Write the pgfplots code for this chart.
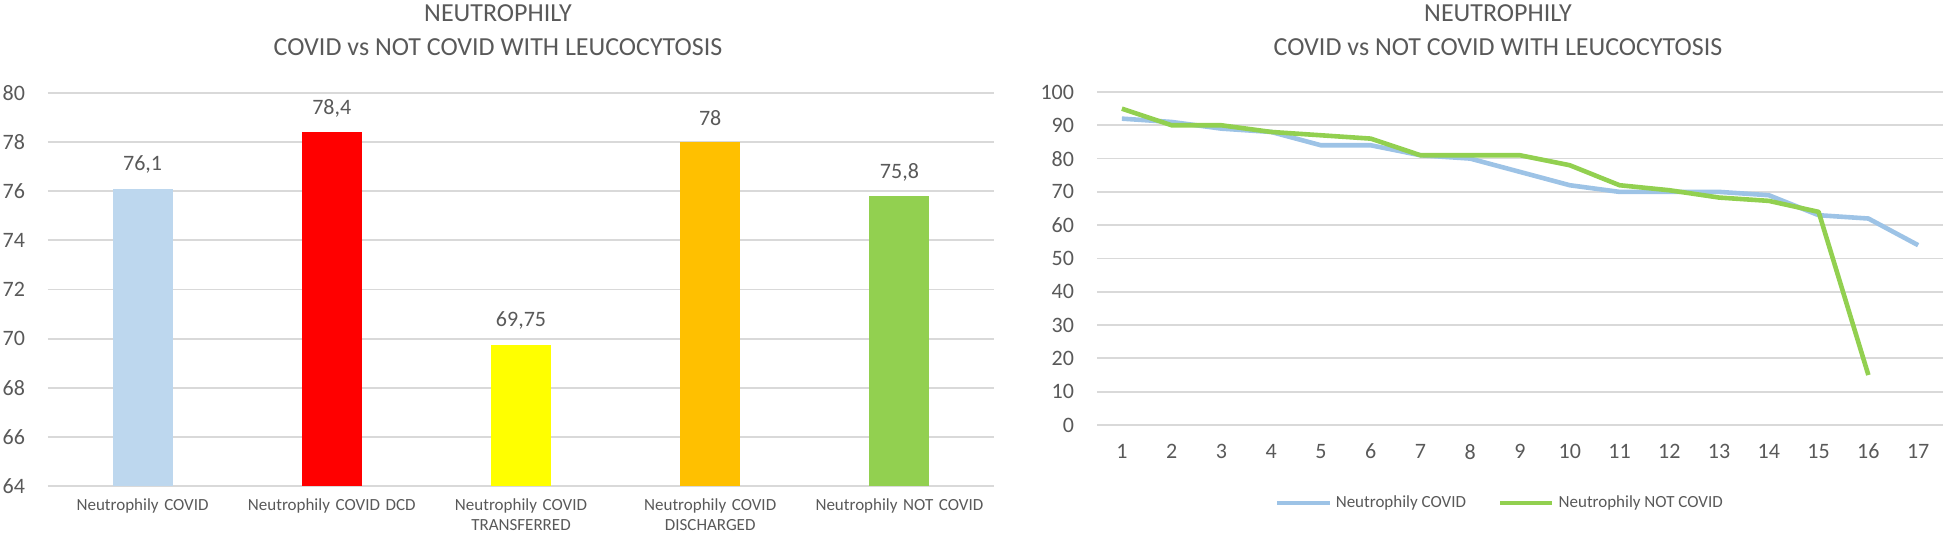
\documentclass[border=0pt]{standalone}
\usepackage{pgfplots}
\usepackage{pgfplotstable}
\pgfplotsset{compat=1.18}
\usepackage{fontspec}
\setmainfont{Carlito}
\definecolor{txtgray}{HTML}{595959}
\definecolor{gridgray}{HTML}{D9D9D9}
\definecolor{cblue}{HTML}{BDD7EE}
\definecolor{cred}{HTML}{FF0000}
\definecolor{cyellow}{HTML}{FFFF00}
\definecolor{corange}{HTML}{FFC000}
\definecolor{cgreen}{HTML}{92D050}
\definecolor{lblue}{HTML}{9DC3E6}

\pgfplotstableread{
x covid notcovid
1 92 95
2 91 90
3 89 90
4 88 88
5 84 87
6 84 86
7 81 81
8 80 81
9 76 81
10 72 78
11 70 72
12 70 70.5
13 70 68.3
14 69 67.3
15 63 64
16 62 15
17 54 nan
}\linedata

\begin{document}
\begin{tikzpicture}[x=0.5pt,y=0.5pt]
\path[use as bounding box] (0,0) rectangle (1946,534);
% titles
\node[txtgray, font=\fontsize{13}{15}\selectfont] at (498,521) {NEUTROPHILY};
\node[txtgray, font=\fontsize{13}{15}\selectfont] at (498,487) {COVID vs NOT COVID WITH LEUCOCYTOSIS};
\node[txtgray, font=\fontsize{13}{15}\selectfont] at (1498,521) {NEUTROPHILY};
\node[txtgray, font=\fontsize{13}{15}\selectfont] at (1498,487) {COVID vs NOT COVID WITH LEUCOCYTOSIS};

\begin{axis}[
  at={(24pt,24pt)}, anchor=south west, scale only axis,
  width=473pt, height=196.5pt,
  xmin=-0.5, xmax=4.5, ymin=64, ymax=80,
  ytick={64,66,...,80},
  xtick={0,1,2,3,4},
  xticklabels={Neutrophily COVID, Neutrophily COVID DCD, Neutrophily COVID\\TRANSFERRED, Neutrophily COVID\\DISCHARGED, Neutrophily NOT COVID},
  axis line style={draw=none},
  major tick length=0pt,
  ymajorgrids, grid style={gridgray, line width=0.9pt},
  tick label style={txtgray},
  yticklabel style={font=\fontsize{11}{13}\selectfont, xshift=-8pt},
  xticklabel style={font=\fontsize{8.5}{10}\selectfont, align=center, text width=100pt, yshift=-3pt},
  ybar, bar width=30pt,
  nodes near coords,
  every node near coord/.append style={txtgray, font=\fontsize{11}{13}\selectfont, anchor=center, yshift=12pt},
  /pgf/number format/use comma,
  /pgf/number format/assume math mode=true,
  /pgf/number format/1000 sep={},
]
\addplot[fill=cblue, draw=none, bar shift=0pt] coordinates {(0,76.1)};
\addplot[fill=cred, draw=none, bar shift=0pt] coordinates {(1,78.4)};
\addplot[fill=cyellow, draw=none, bar shift=0pt] coordinates {(2,69.75)};
\addplot[fill=corange, draw=none, bar shift=0pt] coordinates {(3,78)};
\addplot[fill=cgreen, draw=none, bar shift=0pt] coordinates {(4,75.8)};
\end{axis}

\begin{axis}[
  at={(548.5pt,54.5pt)}, anchor=south west, scale only axis,
  width=423pt, height=166.5pt,
  xmin=0.5, xmax=17.5, ymin=0, ymax=100,
  ytick={0,10,...,100},
  xtick={1,...,17},
  axis line style={draw=none},
  major tick length=0pt,
  ymajorgrids, grid style={gridgray, line width=0.9pt},
  tick label style={txtgray, font=\fontsize{11}{13}\selectfont},
  yticklabel style={xshift=-8pt},
  xticklabel style={yshift=-6pt},
  /pgf/number format/assume math mode=true,
  legend style={at={(0.4775,-0.234)}, anchor=center, draw=none, legend columns=2,
    font=\fontsize{8.5}{10}\selectfont, text=txtgray,
    /tikz/every even column/.append style={column sep=14pt}},
  legend image code/.code={\draw[#1] (0pt,0pt) -- (26pt,0pt);},
]
\addplot[lblue, line width=2.3pt, line join=round] table[x=x, y=covid] {\linedata};
\addlegendentry{Neutrophily COVID}
\addplot[cgreen, line width=2.3pt, line join=round] table[x=x, y=notcovid] {\linedata};
\addlegendentry{Neutrophily NOT COVID}
\end{axis}
\end{tikzpicture}
\end{document}
